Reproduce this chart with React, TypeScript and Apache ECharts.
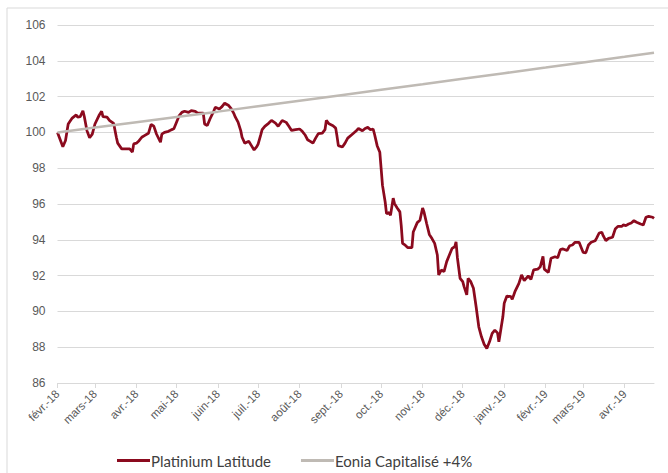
import React, { useEffect, useRef } from "react";
import * as echarts from "echarts";

const DAY = 86400000;
const START = new Date(2018, 1, 1).getTime();
const END_DAY = 446;

const MONTHS = ["janv.", "févr.", "mars", "avr.", "mai", "juin", "juil.", "août", "sept.", "oct.", "nov.", "déc."];

const yMin = 86;
const yMax = 106;
const yStep = 2;

// Platinium Latitude: days since 1 Feb 2018, index values
const platDays = [
  0, 4, 6, 8, 11, 14, 15, 17, 19, 20, 22, 24, 26, 28, 31, 33, 34, 37, 39, 42, 44, 45, 48, 52, 54, 56, 57, 59, 61, 63,
  65, 68, 70, 72, 74, 77, 78, 80, 83, 85, 87, 89, 91, 93, 95, 98, 100, 103, 105, 109, 110, 112, 114, 117, 118, 121,
  123, 125, 128, 130, 132, 133, 135, 137, 138, 140, 143, 145, 147, 149, 150, 152, 153, 155, 158, 160, 163, 165, 168,
  171, 173, 175, 178, 181, 183, 185, 187, 189, 191, 193, 195, 198, 200, 201, 203, 206, 208, 209, 210, 213, 215, 217,
  220, 223, 225, 228, 230, 232, 234, 236, 237, 239, 241, 242, 243, 245, 246, 248, 249, 251, 252, 254, 256, 257, 258,
  260, 262, 265, 266, 269, 271, 273, 274, 276, 278, 280, 282, 284, 285, 287, 289, 291, 293, 295, 297, 298, 299, 301,
  303, 304, 306, 307, 309, 311, 313, 315, 317, 319, 321, 323, 325, 327, 329, 330, 331, 333, 334, 336, 339, 340, 342,
  345, 347, 349, 352, 354, 356, 359, 361, 363, 364, 367, 369, 372, 374, 376, 378, 381, 383, 385, 387, 390, 392, 393,
  395, 397, 399, 402, 403, 405, 407, 408, 410, 412, 415, 417, 419, 422, 423, 425, 427, 429, 431, 433, 436, 438, 440,
  442, 445, 446,
];
const platValues = [
  100.0, 99.2, 99.55, 100.47, 100.8, 100.98, 100.85, 100.88, 101.2, 100.9, 100.1, 99.7, 99.9, 100.47, 100.94, 101.18,
  100.88, 100.85, 100.66, 100.5, 99.73, 99.4, 99.08, 99.08, 99.08, 98.9, 99.36, 99.4, 99.54, 99.73,
  99.82, 99.95, 100.45, 100.35, 99.91, 99.45, 99.9, 100.0, 100.06, 100.14, 100.2, 100.57, 100.94, 101.12, 101.18, 101.12,
  101.22, 101.18, 101.07, 101.07, 100.47, 100.38, 100.75, 101.22, 101.4, 101.31,
  101.44, 101.63, 101.5, 101.31, 101.03, 100.85, 100.57, 100.1, 99.73, 99.4, 99.5, 99.26, 99.02, 99.2, 99.35, 99.87,
  100.15, 100.34, 100.52, 100.67, 100.52, 100.34, 100.67,
  100.56, 100.34, 100.11, 100.15, 100.19, 100.06, 99.87, 99.59, 99.5, 99.4, 99.68, 99.93, 99.96, 100.15, 100.67, 100.48,
  100.37, 100.24, 99.78, 99.26, 99.18, 99.4, 99.68,
  99.87, 100.06, 100.22, 100.09, 100.22, 100.28, 100.15, 100.19, 99.91, 99.26, 98.89, 97.96, 97.04, 96.11, 95.46, 95.52,
  95.37, 96.33, 96.02, 95.78, 95.56, 94.81, 93.8,
  93.7, 93.56, 93.56, 94.44, 94.96, 95.09, 95.78, 95.56, 94.91, 94.3, 94.07, 93.8, 93.15, 92.04, 92.31, 92.22, 92.78,
  93.15, 93.52, 93.61, 93.89, 93.0, 91.85,
  91.66, 91.38, 90.92, 91.85, 91.66, 91.29, 90.26, 89.14, 88.58, 88.17, 87.93, 88.3, 88.77, 88.95, 88.8, 88.3, 88.77,
  89.7, 90.45, 90.86, 90.82, 90.67, 91.1,
  91.57, 92.04, 91.72, 91.98, 91.79, 92.32, 92.36, 92.5, 93.07, 92.36, 92.17, 92.97, 93.05, 93.0, 93.45, 93.49, 93.4,
  93.67, 93.71, 93.86, 93.86, 93.49, 93.3,
  93.27, 93.71, 93.86, 93.95, 94.08, 94.38, 94.42, 94.23, 93.95, 94.08, 94.14, 94.6, 94.75, 94.75, 94.83, 94.79, 94.88,
  94.94, 95.07, 94.98, 94.88, 94.83, 95.26,
  95.31, 95.26, 95.2,
];

// Eonia Capitalisé +4%
const eoniaDays = [0, 28, 59, 89, 120, 150, 181, 212, 242, 273, 303, 334, 365, 393, 424, 446];
const eoniaValues = [
  100.0, 100.27, 100.57, 100.86, 101.16, 101.46, 101.77, 102.08, 102.38, 102.69, 103.0, 103.31, 103.62, 103.91, 104.22,
  104.45,
];

const seriesNames = ["Platinium Latitude", "Eonia Capitalisé +4%"];

function toPairs(days: number[], values: number[]) {
  return days.map((d, i) => [START + d * DAY, values[i]]);
}

export default function App() {
  const ref = useRef<HTMLDivElement>(null);
  useEffect(() => {
    if (!ref.current) return;
    const chart = echarts.init(ref.current, null, { renderer: "svg" });
    chart.setOption({
      animation: false,
      backgroundColor: "#ffffff",
      graphic: [
        {
          type: "rect",
          shape: { x: 7, y: 8, width: 700, height: 500 },
          style: { fill: "none", stroke: "#d9d9d9", lineWidth: 1 },
          silent: true,
        },
      ],
      grid: { left: 57.5, right: 14, top: 25, bottom: 90, containLabel: false },
      legend: {
        left: 112,
        top: 448,
        itemWidth: 33,
        itemHeight: 3,
        itemGap: 30,
        icon: "rect",
        textStyle: { fontFamily: "Lato", fontSize: 15, color: "#404040", padding: [0, 0, 0, -4] },
        data: seriesNames,
      },
      xAxis: {
        type: "time",
        min: START,
        max: START + END_DAY * DAY,
        minInterval: 28 * DAY,
        maxInterval: 31 * DAY,
        axisLine: { show: true, lineStyle: { color: "#d9d9d9", width: 1 } },
        axisTick: { show: true, length: 5, lineStyle: { color: "#d9d9d9" } },
        splitLine: { show: false },
        axisLabel: {
          rotate: 45,
          margin: 9,
          fontFamily: "Liberation Sans",
          fontSize: 11.5,
          color: "#595959",
          hideOverlap: false,
          showMaxLabel: false,
          formatter: (val: number) => {
            const d = new Date(val);
            const yy = String(d.getFullYear() % 100).padStart(2, "0");
            return MONTHS[d.getMonth()] + "-" + yy;
          },
        },
      },
      yAxis: {
        type: "value",
        min: yMin,
        max: yMax,
        interval: yStep,
        axisLine: { show: false },
        axisTick: { show: false },
        splitLine: { lineStyle: { color: "#d9d9d9", width: 1 } },
        axisLabel: { margin: 12, fontFamily: "Liberation Sans", fontSize: 12, color: "#595959" },
      },
      series: [
        {
          name: seriesNames[0],
          type: "line",
          data: toPairs(platDays, platValues),
          showSymbol: false,
          symbol: "none",
          lineStyle: { color: "#8b0a1e", width: 2.75 },
          itemStyle: { color: "#8b0a1e" },
          z: 2,
        },
        {
          name: seriesNames[1],
          type: "line",
          data: toPairs(eoniaDays, eoniaValues),
          showSymbol: false,
          symbol: "none",
          lineStyle: { color: "#bfbab4", width: 2.5 },
          itemStyle: { color: "#bfbab4" },
          z: 3,
        },
      ],
    });
    return () => chart.dispose();
  }, []);
  return (
    <div
      ref={ref}
      style={{ position: "fixed", left: 0, top: 0, width: 668, height: 473, background: "#fff" }}
    />
  );
}
